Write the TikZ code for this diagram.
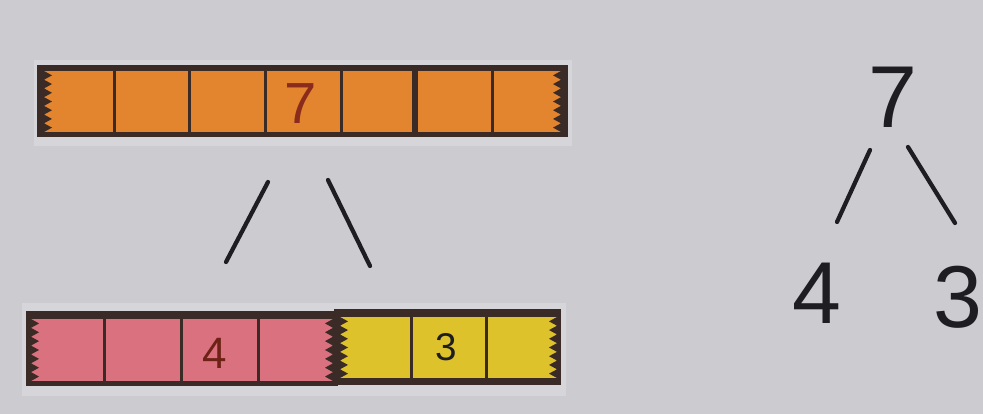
\documentclass[tikz,border=0pt]{standalone}
\usepackage{fontspec}
\newfontfamily\hand{Liberation Sans}
\definecolor{bg}{HTML}{CBCBD0}
\definecolor{paper}{HTML}{D6D6DA}
\definecolor{rim}{HTML}{3A2B27}
\definecolor{orangerod}{HTML}{E3842F}
\definecolor{pinkrod}{HTML}{D9717F}
\definecolor{yellowrod}{HTML}{DEC22C}
\definecolor{ink}{HTML}{1E1E22}
\definecolor{redink}{HTML}{8A2B1C}
\tikzset{
  divider/.style={draw=rim, line width=0.6mm},
  stroke/.style={draw=ink, line width=0.85mm, line cap=round},
  digit/.style={font=\hand\fontsize{50}{50}\selectfont, text=ink, inner sep=0pt},
}
% zigzag edge: #1 edge x, #2 tip x, #3 top y, #4 bottom y
\newcommand\zigedge[4]{%
  \fill[rim] (#1,#3) \foreach \i in {1,...,7}{ -- (#2,{#3+(\i-0.5)*(#4-#3)/7}) -- (#1,{#3+\i*(#4-#3)/7}) } -- cycle;}
\begin{document}
\begin{tikzpicture}[x=0.2mm,y=-0.2mm]
\fill[bg] (0,0) rectangle (983,414);
\useasboundingbox (0,0) rectangle (983,414);
% paper under rods
\fill[paper] (34,60) rectangle (572,146);
\fill[paper] (22,303) rectangle (566,396);
% ---- top rod (7) ----
\fill[rim] (37,65) rectangle (568,137);
\fill[orangerod] (44,71) rectangle (561,132);
\zigedge{44}{52}{71}{132}
\zigedge{561}{553}{71}{132}
\foreach \x in {114,189,265,341,492} \draw[divider] (\x,71) -- (\x,132);
\draw[rim, line width=1.3mm] (415,66) -- (415,137);
\node[font=\hand\fontsize{33}{33}\selectfont, text=redink, inner sep=0pt] (r7) at (301,104) {7};
% ---- pink rod (4) ----
\fill[rim] (26,311) rectangle (338,386);
\fill[pinkrod] (31,319) rectangle (333,381);
\zigedge{31}{39}{319}{381}
\zigedge{333}{325}{319}{381}
\foreach \x in {104,181,258} \draw[divider] (\x,319) -- (\x,381);
\node[font=\hand\fontsize{25}{25}\selectfont, text=redink!80!black, inner sep=0pt] (r4) at (215,353) {4};
% ---- yellow rod (3) ----
\fill[rim] (334,309) rectangle (561,385);
\fill[yellowrod] (340,317) rectangle (557,378);
\zigedge{340}{348}{317}{378}
\zigedge{557}{549}{317}{378}
\foreach \x in {411,486} \draw[divider] (\x,317) -- (\x,378);
\node[font=\hand\fontsize{22}{22}\selectfont, text=ink, inner sep=0pt] (r3) at (446,347) {3};
% ---- strokes between rods ----
\coordinate (la) at (268,182);
\coordinate (lb) at (226,262);
\coordinate (ra) at (328,180);
\coordinate (rb) at (370,266);
\draw[stroke] (la) -- (lb);
\draw[stroke] (ra) -- (rb);
% ---- number bond ----
\node[digit] (t7) at (893,97) {7};
\node[digit] (t4) at (817,293) {4};
\node[digit] (t3) at (958,297) {3};
\coordinate (ta) at (870,150);
\coordinate (tb) at (837,222);
\coordinate (tc) at (908,147);
\coordinate (td) at (955,223);
\draw[stroke] (ta) -- (tb);
\draw[stroke] (tc) -- (td);
\end{tikzpicture}
\end{document}
